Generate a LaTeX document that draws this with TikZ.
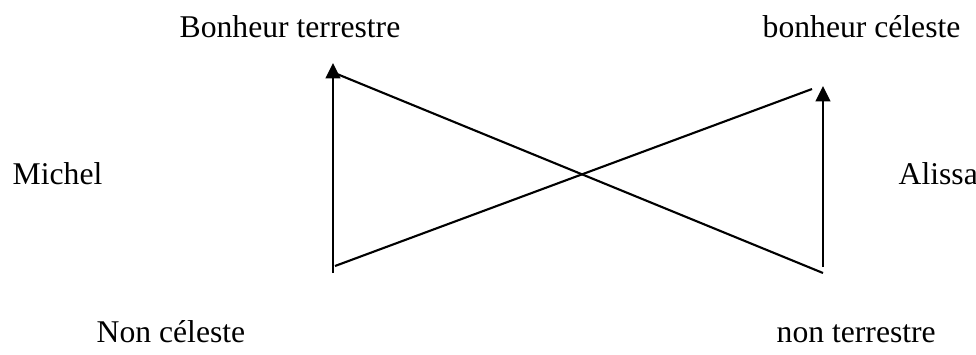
\documentclass[tikz,border=0pt]{standalone}
\usepackage{fontspec}
\setmainfont{Liberation Serif}
\usetikzlibrary{arrows.meta}

\begin{document}
\begin{tikzpicture}[x=0.01cm,y=-0.01cm,
    trait/.style={line width=0.6pt},
    fleche/.style={trait,-{Triangle[length=4.4pt,width=4.2pt]}},
    etiq/.style={anchor=base west,inner sep=0pt,font=\fontsize{9}{11}\selectfont}]
  \useasboundingbox (0,0) rectangle (976,354);
  % etiquettes
  \node[etiq] (bt) at (179,37) {Bonheur terrestre};
  \node[etiq] (bc) at (762,37) {bonheur céleste};
  \node[etiq] (mi) at (12,184) {Michel};
  \node[etiq] (al) at (898,184) {Alissa};
  \node[etiq] (nc) at (96,342) {Non céleste};
  \node[etiq] (nt) at (776,342) {non terrestre};
  % extremites
  \coordinate (gbas) at (333,273);
  \coordinate (ghaut) at (333,63);
  \coordinate (dbas) at (823,267);
  \coordinate (dhaut) at (823,86);
  \coordinate (d1a) at (337,74);
  \coordinate (d1b) at (823,273);
  \coordinate (d2a) at (335,266);
  \coordinate (d2b) at (812,89);
  \draw[fleche] (gbas) -- (ghaut);
  \draw[fleche] (dbas) -- (dhaut);
  \draw[trait] (d1a) -- (d1b);
  \draw[trait] (d2a) -- (d2b);
\end{tikzpicture}
\end{document}
